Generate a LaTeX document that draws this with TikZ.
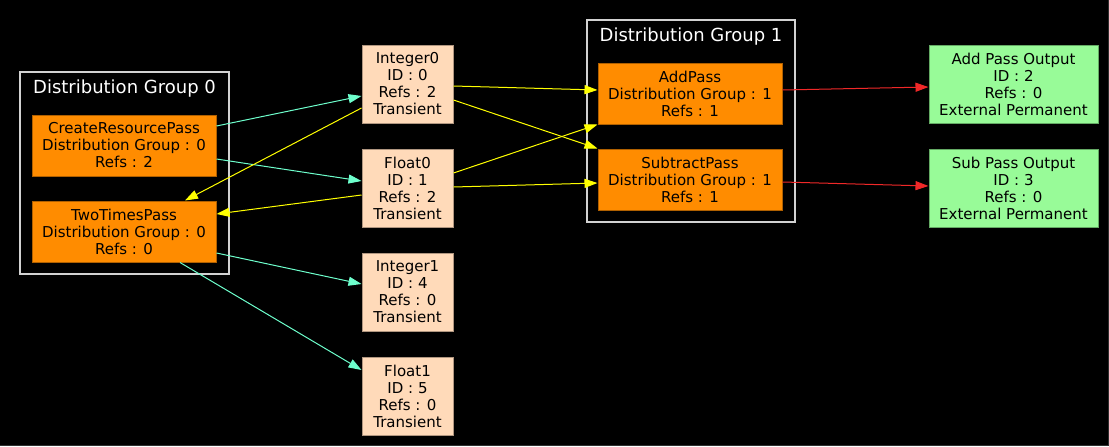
\documentclass[tikz,border=0pt]{standalone}
\usepackage{fontspec}
\setmainfont{DejaVu Sans}
\usetikzlibrary{arrows.meta,calc}

\definecolor{passorange}{RGB}{255,140,0}
\definecolor{passedge}{RGB}{176,96,0}
\definecolor{respeach}{RGB}{255,218,185}
\definecolor{resedge}{RGB}{176,150,128}
\definecolor{outgreen}{RGB}{152,251,152}
\definecolor{outedge}{RGB}{100,170,100}
\definecolor{groupline}{RGB}{210,210,210}
\definecolor{readcyan}{RGB}{110,255,205}
\definecolor{usesyellow}{RGB}{255,255,0}
\definecolor{writered}{RGB}{240,40,40}

\tikzset{every picture/.style={line width=0.75pt}}
\tikzset{
  nodetext/.style={font=\fontsize{11.25}{12.75}\selectfont, align=center, inner sep=0pt, text=black},
  passbox/.style={nodetext, draw=passedge, fill=passorange, minimum width=138pt, minimum height=45.75pt},
  resbox/.style={nodetext, draw=resedge, fill=respeach, minimum width=68.25pt, minimum height=58.5pt},
  outbox/.style={nodetext, draw=outedge, fill=outgreen, minimum width=126.75pt, minimum height=58.5pt},
  groupbox/.style={draw=groupline, line width=1.1pt, inner sep=0pt},
  grouptitle/.style={font=\fontsize{13.5}{15}\selectfont, text=white, inner sep=0pt, anchor=base},
  flow/.style={-{Triangle[length=9.75pt,width=6.75pt]}, line width=0.75pt}
}

\begin{document}
\begin{tikzpicture}[x=0.75pt,y=0.75pt,yscale=-1,xscale=1]
%background
\fill[black] (0,0) rectangle (1109,446);
\useasboundingbox (0,0) rectangle (1109,446);
\draw[color={rgb, 255:red, 48; green, 48; blue, 48 }, line width=1pt] (0,445.5) -- (1108.5,445.5) -- (1108.5,0);

%Groups
\node[groupbox, minimum width=156.75pt, minimum height=151.5pt] (grp0) at (124.5,173) {};
\node[grouptitle] (grp0title) at (124.5,93) {Distribution Group 0};
\node[groupbox, minimum width=156pt, minimum height=151.5pt] (grp1) at (691,121) {};
\node[grouptitle] (grp1title) at (691,41.5) {Distribution Group 1};

% Pass Nodes
\node[passbox] (crp) at (124,145.5) {CreateResourcePass\\Distribution Group : 0\\Refs : 2};
\node[passbox] (tt) at (124,231.5) {TwoTimesPass\\Distribution Group : 0\\Refs : 0};
\node[passbox] (add) at (690,93.5) {AddPass\\Distribution Group : 1\\Refs : 1};
\node[passbox] (sub) at (690,179.5) {SubtractPass\\Distribution Group : 1\\Refs : 1};

% Resource Nodes
\node[resbox] (int0) at (407.5,84) {Integer0\\ID : 0\\Refs : 2\\Transient};
\node[resbox] (flt0) at (407.5,188) {Float0\\ID : 1\\Refs : 2\\Transient};
\node[resbox] (int1) at (407.5,292) {Integer1\\ID : 4\\Refs : 0\\Transient};
\node[resbox] (flt1) at (407.5,396) {Float1\\ID : 5\\Refs : 0\\Transient};
\node[outbox] (apo) at (1013.5,84) {Add Pass Output\\ID : 2\\Refs : 0\\External Permanent};
\node[outbox] (spo) at (1013.5,188) {Sub Pass Output\\ID : 3\\Refs : 0\\External Permanent};

%Straight Lines (writes)
\draw[flow, readcyan] ($(crp.east)+(0,-19.5)$) -- ($(int0.west)+(0,12)$);
\draw[flow, readcyan] ($(crp.east)+(0,13.5)$) -- ($(flt0.west)+(0,-7)$);
\draw[flow, readcyan] ($(tt.east)+(0,21.5)$) -- ($(int1.west)+(0,-8)$);
\draw[flow, readcyan] ($(tt.south)+(56,0)$) -- ($(flt1.west)+(0,-26)$);

%Straight Lines (reads)
\draw[flow, usesyellow] ($(int0.west)+(0,24)$) -- ($(tt.north)+(61,0)$);
\draw[flow, usesyellow] ($(flt0.west)+(0,7)$) -- ($(tt.east)+(0,-17.5)$);
\draw[flow, usesyellow] ($(int0.east)+(0,2)$) -- ($(add.west)+(0,-3.5)$);
\draw[flow, usesyellow] ($(int0.east)+(0,16)$) -- (sub.north west);
\draw[flow, usesyellow] ($(flt0.east)+(0,-15)$) -- (add.south west);
\draw[flow, usesyellow] ($(flt0.east)+(0,-1)$) -- ($(sub.west)+(0,3.5)$);

%Straight Lines (outputs)
\draw[flow, writered] ($(add.east)+(0,-3.5)$) -- ($(apo.west)+(0,3)$);
\draw[flow, writered] ($(sub.east)+(0,2.5)$) -- ($(spo.west)+(0,-2)$);

\end{tikzpicture}
\end{document}
